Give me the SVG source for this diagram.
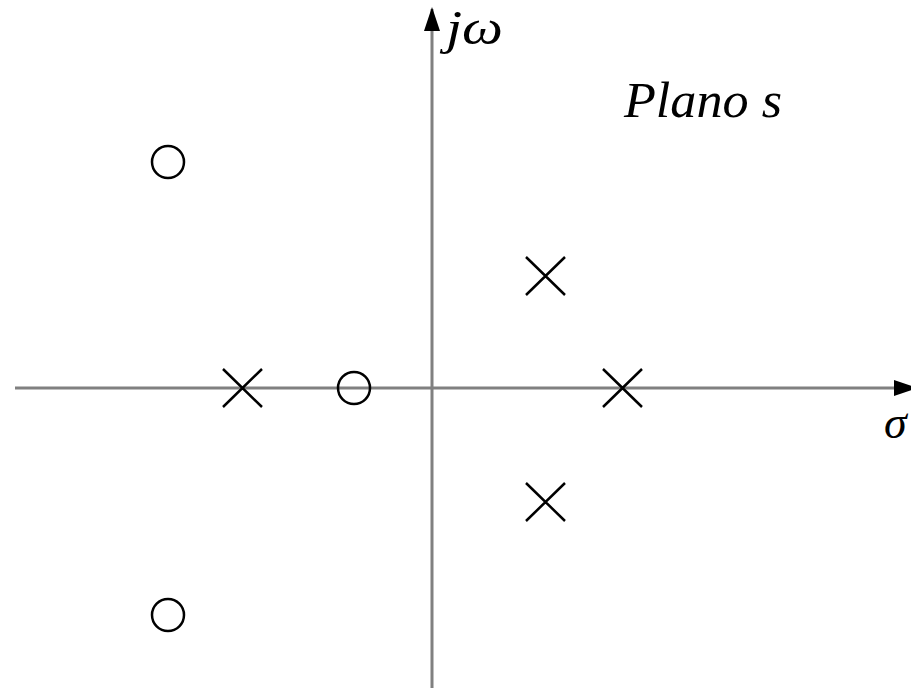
<svg xmlns="http://www.w3.org/2000/svg" width="911" height="688" viewBox="0 0 911 688">
<style>
.axis{stroke:#808080;stroke-width:3;fill:none}
.zero{fill:none;stroke:#000;stroke-width:2.5}
.pole{stroke:#000;stroke-width:2.5;fill:none}
.lbl{font-family:'Liberation Serif','Times New Roman','DejaVu Serif',serif;font-style:italic;fill:#000}
</style>
<defs>
<marker id="arr" markerWidth="24" markerHeight="16" refX="22" refY="8" orient="auto" markerUnits="userSpaceOnUse">
<path d="M0,0 L24,8 L0,16 Z" fill="#000"/>
</marker>
</defs>
<rect width="911" height="688" fill="#fff"/>
<g id="connectors">
<line class="axis" x1="15" y1="388" x2="916" y2="388" marker-end="url(#arr)"/>
<line class="axis" x1="432" y1="688" x2="432" y2="9" marker-end="url(#arr)"/>
</g>
<g id="zero1"><circle class="zero" cx="168" cy="162" r="16"/></g>
<g id="zero2"><circle class="zero" cx="354" cy="388" r="16"/></g>
<g id="zero3"><circle class="zero" cx="168" cy="615" r="16"/></g>
<g id="pole1"><path class="pole" d="M223,369 L262,407 M262,369 L223,407"/></g>
<g id="pole2"><path class="pole" d="M603,369 L642,407 M642,369 L603,407"/></g>
<g id="pole3"><path class="pole" d="M526,257 L565,295 M565,257 L526,295"/></g>
<g id="pole4"><path class="pole" d="M526,483 L565,521 M565,483 L526,521"/></g>
<g id="labels">
<text class="lbl" x="446" y="44" font-size="48" textLength="57" lengthAdjust="spacingAndGlyphs">jω</text>
<text class="lbl" x="624" y="117" font-size="51" textLength="158" lengthAdjust="spacingAndGlyphs">Plano s</text>
<text class="lbl" x="884" y="438" font-size="46">σ</text>
</g>
</svg>
